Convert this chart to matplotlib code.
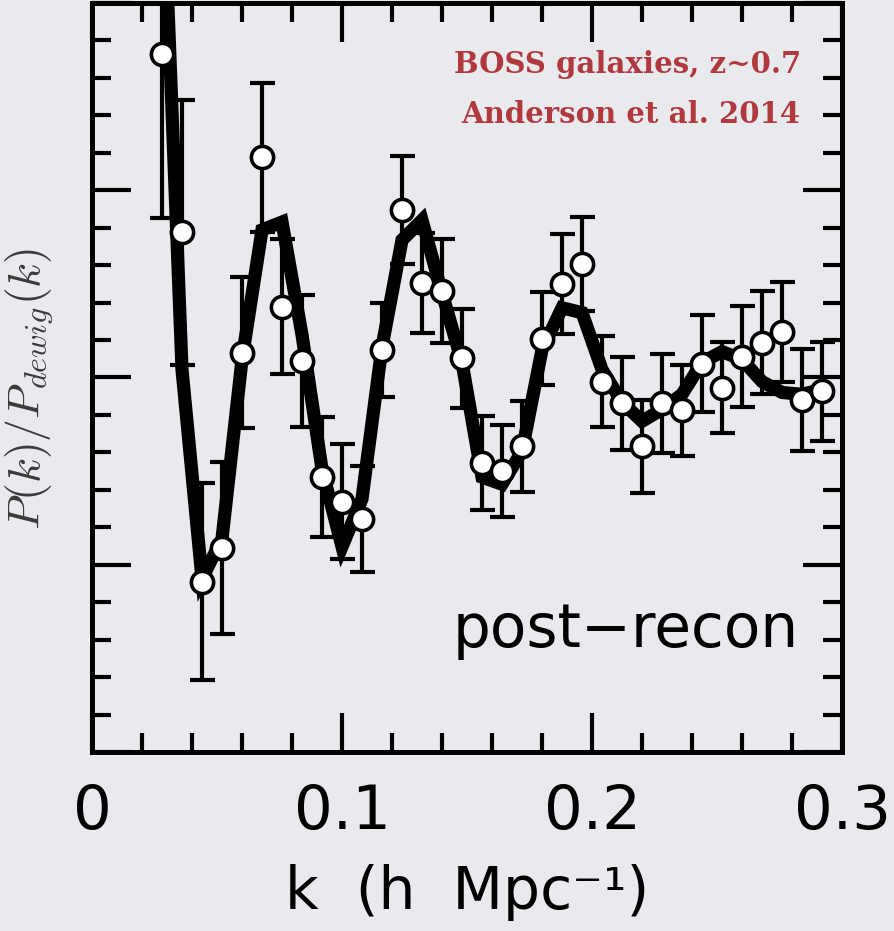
import matplotlib
matplotlib.use("Agg")
import matplotlib.pyplot as plt
from matplotlib.ticker import MultipleLocator

# BAO wiggles in the post-reconstruction power spectrum, ratio to no-wiggle model
k = [0.028, 0.036, 0.044, 0.052, 0.060, 0.068, 0.076, 0.084, 0.092, 0.100,
     0.108, 0.116, 0.124, 0.132, 0.140, 0.148, 0.156, 0.164, 0.172, 0.180,
     0.188, 0.196, 0.204, 0.212, 0.220, 0.228, 0.236, 0.244, 0.252, 0.260,
     0.268, 0.276, 0.284, 0.292]

ratio = [1.0864, 1.0388, 0.9455, 0.9545, 1.0066, 1.0588, 1.0189, 1.0045, 0.9734, 0.9668,
         0.9622, 1.0074, 1.0447, 1.0253, 1.0231, 1.0051, 0.9771, 0.9750, 0.9816, 1.0104,
         1.0250, 1.0303, 0.9989, 0.9931, 0.9816, 0.9931, 0.9912, 1.0037, 0.9973, 1.0056,
         1.0093, 1.0122, 0.9941, 0.9963]

ratio_err = [0.0439, 0.0354, 0.0263, 0.0229, 0.0202, 0.0199, 0.0181, 0.0176, 0.0160, 0.0154,
             0.0141, 0.0125, 0.0144, 0.0133, 0.0138, 0.0133, 0.0125, 0.0122, 0.0122, 0.0125,
             0.0133, 0.0125, 0.0122, 0.0125, 0.0125, 0.0133, 0.0122, 0.0130, 0.0122, 0.0136,
             0.0138, 0.0133, 0.0136, 0.0133]

model = [1.1404, 1.0021, 0.9463, 0.9569, 1.0048, 1.0394, 1.0415, 1.0114, 0.9755, 0.9548,
         0.9676, 1.0082, 1.0367, 1.0420, 1.0226, 1.0040, 0.9734, 0.9715, 0.9803, 1.0074,
         1.0186, 1.0173, 1.0021, 0.9934, 0.9883, 0.9915, 0.9955, 1.0040, 1.0069, 1.0048,
         0.9989, 0.9960, 0.9955, 0.9968]

bg = "#e9eaee"
red = "#b1393e"
plt.rcParams["mathtext.fontset"] = "cm"

fig = plt.figure(figsize=(8.95, 9.31), dpi=100, facecolor=bg)
ax = fig.add_axes([0.1028, 0.1923, 0.838, 0.8045], facecolor=bg)

ax.errorbar(k, ratio, yerr=ratio_err, fmt="none", ecolor="black",
            elinewidth=3, capsize=9, capthick=3, zorder=2)
ax.plot(k, model, color="black", lw=9.5, solid_joinstyle="miter", zorder=3)
ax.plot(k, ratio, "o", ms=16, mfc="white", mec="black", mew=2.6, zorder=4)

ax.set_xlim(0, 0.3)
ax.set_ylim(0.9, 1.1)

ax.xaxis.set_major_locator(MultipleLocator(0.1))
ax.xaxis.set_minor_locator(MultipleLocator(0.02))
ax.yaxis.set_major_locator(MultipleLocator(0.05))
ax.yaxis.set_minor_locator(MultipleLocator(0.01))
ax.tick_params(which="both", direction="in", top=True, right=True, width=3, color="black")
ax.tick_params(which="major", length=28)
ax.tick_params(which="minor", length=14)
ax.tick_params(axis="y", labelleft=False)
ax.tick_params(axis="x", labelsize=44, pad=22)
ax.set_xticks([0, 0.1, 0.2, 0.3])
ax.set_xticklabels(["0", "0.1", "0.2", "0.3"])

for s in ax.spines.values():
    s.set_linewidth(3.6)

ax.set_xlabel("k  (h  Mpc\u207b\u00b9)", fontsize=42, labelpad=16)
ax.set_ylabel(r"$P(k)/P_{dewig}(k)$", fontsize=33, color="#3a3a3a")
ax.yaxis.set_label_coords(-0.05, 0.485)

ax.text(0.945, 0.907, "BOSS galaxies, z~0.7", transform=ax.transAxes,
        ha="right", va="baseline", fontsize=21, fontweight="bold",
        color=red, family="DejaVu Serif")
ax.text(0.945, 0.84, "Anderson et al. 2014", transform=ax.transAxes,
        ha="right", va="baseline", fontsize=21, fontweight="bold",
        color=red, family="DejaVu Serif")
ax.text(0.943, 0.14, "post\u2212recon", transform=ax.transAxes,
        ha="right", va="baseline", fontsize=43)

fig.savefig("out.png", dpi=100, facecolor=bg)
